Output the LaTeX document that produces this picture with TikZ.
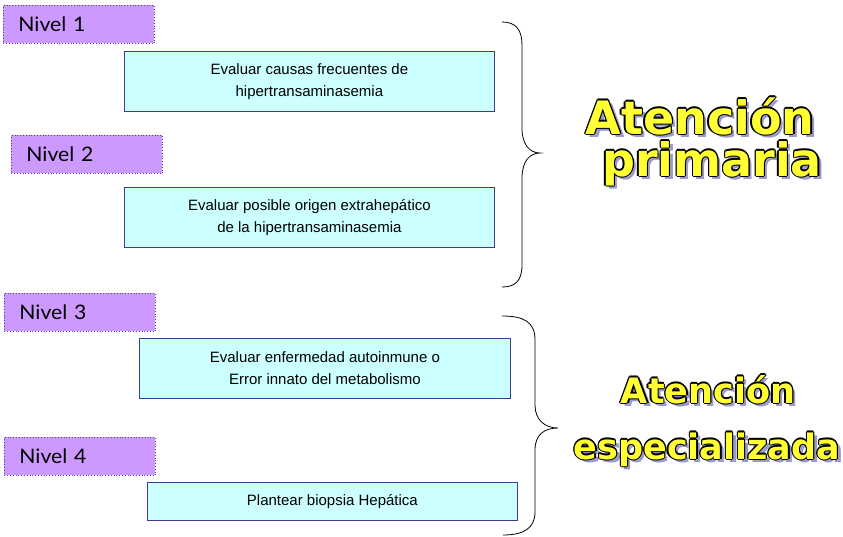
\documentclass[tikz,border=0pt]{standalone}
\usepackage{fontspec}
\usetikzlibrary{calc}
\setmainfont{Liberation Sans}
\newfontfamily\nivelfont[FakeStretch=1.06]{Lato}
\newfontfamily\bigfont{DejaVu Sans}
\definecolor{nivelfill}{HTML}{CC99FF}
\definecolor{nivelline}{HTML}{5A3C9C}
\definecolor{boxfill}{HTML}{CCFFFF}
\definecolor{boxline}{HTML}{3C3C96}
\definecolor{bigyellow}{HTML}{FFFF33}
\definecolor{bigshadow}{HTML}{9A9ACC}
\begin{document}
\begin{tikzpicture}[x=1pt,y=-1pt,
  nivelbox/.style={draw=nivelline, dotted, line width=0.8pt, fill=nivelfill, minimum height=38pt, minimum width=151pt, anchor=north west, inner sep=0pt, text width=141pt, align=left, font=\nivelfont\fontsize{20}{22}\selectfont},
  taskbox/.style={draw=boxline, line width=0.8pt, fill=boxfill, minimum width=370pt, anchor=north west, inner sep=0pt, align=center, font=\fontsize{15}{22}\selectfont},
  bigtxt/.style={font=\bigfont\bfseries\fontsize{35}{40}\selectfont, inner sep=0pt, anchor=base},
  bigger/.style={font=\bigfont\bfseries\fontsize{46}{50}\selectfont},
  bracel/.style={draw=black, line width=0.8pt}
]
\useasboundingbox (0,0) rectangle (843,536);

% Nivel labels
\node[nivelbox] (n1) at (3,5) {\hspace*{10pt}Nivel 1};
\node[nivelbox] (n2) at (11,135) {\hspace*{10pt}Nivel 2};
\node[nivelbox] (n3) at (4,293) {\hspace*{10pt}Nivel 3};
\node[nivelbox] (n4) at (4,437) {\hspace*{10pt}Nivel 4};

% Task boxes
\node[taskbox, minimum height=60pt] (b1) at (124,51) {Evaluar causas frecuentes de\\hipertransaminasemia};
\node[taskbox, minimum height=60pt] (b2) at (124,187) {Evaluar posible origen extrahepático\\de la hipertransaminasemia};
\node[taskbox, minimum height=60pt, minimum width=371pt] (b3) at (139,338) {Evaluar enfermedad autoinmune o\\Error innato del metabolismo};
\node[taskbox, minimum height=38pt] (b4) at (147,482) {Plantear biopsia Hepática};

% Braces
\coordinate (t1) at (502,22);
\coordinate (m1) at (540,153);
\coordinate (e1) at (502,287);
\draw[bracel] (t1) .. controls (516,22) and (522,30) .. (522,45)
  -- (522,128) .. controls (522,145) and (530,153) .. (m1)
  .. controls (530,153) and (522,161) .. (522,178)
  -- (522,265) .. controls (522,280) and (516,287) .. (e1);

\coordinate (t2) at (502,316);
\coordinate (m2) at (558,428);
\coordinate (e2) at (503,535);
\draw[bracel] (t2) .. controls (524,316) and (535,322) .. (535,340)
  -- (535,405) .. controls (535,420) and (545,428) .. (m2)
  .. controls (545,428) and (535,434) .. (535,450)
  -- (535,512) .. controls (535,528) and (524,535) .. (e2);

% Big outlined text
\newcommand{\bigword}[4]{%
  \node[bigtxt, #4, text=bigshadow] at ($(#1)+(3.5,3.5)$) {#2};
  \foreach \dx/\dy in {-1.3/0,1.3/0,0/-1.3,0/1.3,-0.95/-0.95,0.95/0.95,-0.95/0.95,0.95/-0.95}{
    \node[bigtxt, #4, text=black] at ($(#1)+(\dx,\dy)$) {#2};
  }
  \node[bigtxt, #4, text=bigyellow] (#3) at (#1) {#2};
}
\coordinate (p1) at (700,134);
\coordinate (p2) at (712,176);
\coordinate (p3) at (708,403);
\coordinate (p4) at (707,459);
\bigword{p1}{Atención}{w1}{bigger}
\bigword{p2}{primaria}{w2}{bigger}
\bigword{p3}{Atención}{w3}{}
\bigword{p4}{especializada}{w4}{}
\end{tikzpicture}
\end{document}
